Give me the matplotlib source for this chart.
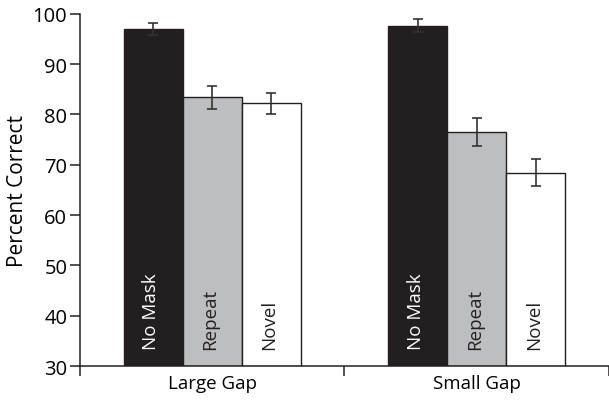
import matplotlib
matplotlib.use('Agg')
import matplotlib.pyplot as plt
import numpy as np

plt.rcParams['font.family'] = ['Open Sans', 'DejaVu Sans']

groups = ['Large Gap', 'Small Gap']
conditions = ['No Mask', 'Repeat', 'Novel']
percent = {
    'No Mask': [97.0, 97.6],
    'Repeat': [83.4, 76.5],
    'Novel': [82.2, 68.4],
}
errors = {
    'No Mask': [1.2, 1.3],
    'Repeat': [2.25, 2.8],
    'Novel': [2.15, 2.7],
}
colors = {'No Mask': '#231f20', 'Repeat': '#bcbec0', 'Novel': 'white'}
label_colors = {'No Mask': 'white', 'Repeat': '#231f20', 'Novel': '#231f20'}

fig = plt.figure(figsize=(6.09, 4.02), dpi=100)
ax = fig.add_axes([0.131, 0.087, 0.869, 0.876])

width = 0.223
centers = np.arange(len(groups)) + 0.5
for i, cond in enumerate(conditions):
    xs = centers + (i - 1) * width
    ax.bar(xs, np.array(percent[cond]) - 30, width, bottom=30,
           color=colors[cond], edgecolor='#231f20', linewidth=1.0, zorder=2)
    ax.errorbar(xs, percent[cond], yerr=errors[cond], fmt='none',
                ecolor='#333333', elinewidth=1.2, capsize=3.4, capthick=1.2, zorder=3)
    for x in xs:
        ax.text(x - 0.006, 33.3, cond, rotation=90, ha='center', va='bottom',
                color=label_colors[cond], fontsize=13.5, zorder=4)

ax.set_xlim(0, 2)
ax.set_ylim(30, 100)
ax.set_yticks(range(30, 101, 10))
ax.set_xticks([0, 1, 2])
ax.set_xticklabels([])
ax.set_xticks(centers, minor=True)
ax.set_xticklabels(groups, minor=True, fontsize=13.5)
ax.tick_params(axis='x', which='minor', length=0, pad=6)
ax.tick_params(axis='x', which='major', length=7, width=1.1, color='#231f20')
ax.tick_params(axis='y', length=7, width=1.1, color='#231f20', labelsize=14.5, pad=2)
ax.set_ylabel('Percent Correct', fontsize=15, labelpad=3)

for side in ['top', 'right']:
    ax.spines[side].set_visible(False)
for side in ['left', 'bottom']:
    ax.spines[side].set_linewidth(1.1)
    ax.spines[side].set_color('#231f20')

fig.savefig('out.png', dpi=100)
